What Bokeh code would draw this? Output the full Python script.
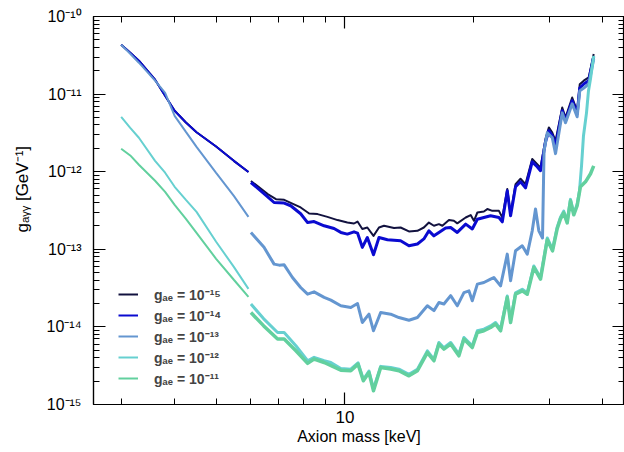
from bokeh.plotting import figure
from bokeh.models import LogAxis, FixedTicker, CustomJSTickFormatter, Legend, LegendItem, Range1d
from bokeh.embed import file_html
from bokeh.resources import INLINE

FONT = "Liberation Sans"

# ---------------- data (axion mass in keV, g_agg in GeV^-1) ----------------
# low-mass part, below the ~6 keV gap (shared mass grid)
mass_low = [3.0, 3.15, 3.3, 3.6, 3.8, 4.0, 4.25, 4.5, 5.0, 5.5, 5.95]
g15_low = [4.32e-11, 3.40e-11, 2.69e-11, 1.53e-11, 9.5e-12, 6.09e-12, 4.30e-12, 3.22e-12, 2.11e-12, 1.38e-12, 9.9e-13]
g14_low = [4.32e-11, 3.40e-11, 2.69e-11, 1.53e-11, 9.5e-12, 6.09e-12, 4.30e-12, 3.22e-12, 2.11e-12, 1.38e-12, 9.9e-13]
g13_low = [4.32e-11, 3.31e-11, 2.54e-11, 1.49e-11, 1.04e-11, 5.25e-12, 3.26e-12, 2.09e-12, 9.68e-13, 4.89e-13, 2.62e-13]
g12_low = [5.08e-12, 3.67e-12, 2.74e-12, 1.38e-12, 9.7e-13, 6.39e-13, 4.34e-13, 3.04e-13, 1.25e-13, 5.94e-14, 3.09e-14]
g11_low = [1.98e-12, 1.62e-12, 1.23e-12, 7.64e-13, 5.50e-13, 3.74e-13, 2.47e-13, 1.63e-13, 7.54e-14, 4.05e-14, 2.44e-14]

# high-mass part, above the gap
mass15_hi = [6.03, 6.6, 6.9, 7.21, 7.47, 7.88, 8.25, 8.63, 9.10, 9.61, 10.13, 10.50, 10.70, 10.98, 11.28,
             11.66, 12.01, 12.34, 13.02, 13.49, 14.11, 14.77, 15.29, 15.71, 16.14, 16.58, 16.89, 17.50, 17.97,
             18.30, 19.15, 19.67, 20.02, 20.39, 21.12, 21.51, 22.10, 22.90, 23.32, 23.95, 24.38, 25.04, 25.72,
             26.42, 27.39, 28.13, 28.64, 29.42, 29.95, 30.51, 31.05, 32.19, 32.76, 33.96, 34.88, 35.37, 36.14,
             37.12, 38.13]
g15_hi = [7.6e-13, 5.15e-13, 4.43e-13, 4.34e-13, 3.97e-13, 3.46e-13, 2.89e-13, 2.84e-13, 2.62e-13, 2.38e-13,
          2.21e-13, 2.15e-13, 2.28e-13, 1.83e-13, 1.91e-13, 1.49e-13, 1.91e-13, 2.01e-13, 1.88e-13, 1.91e-13,
          1.70e-13, 1.73e-13, 1.91e-13, 2.21e-13, 2.01e-13, 2.11e-13, 2.01e-13, 2.38e-13, 2.33e-13, 2.16e-13,
          2.57e-13, 2.76e-13, 2.33e-13, 2.98e-13, 3.07e-13, 3.30e-13, 3.13e-13, 3.13e-13, 2.57e-13, 5.97e-13,
          2.84e-13, 6.92e-13, 8.10e-13, 6.92e-13, 1.46e-12, 1.25e-12, 1.13e-12, 2.65e-12, 3.72e-12, 3.20e-12,
          2.49e-12, 6.72e-12, 4.99e-12, 9.04e-12, 6.09e-12, 1.34e-11, 1.49e-11, 1.64e-11, 3.28e-11]

mass14_hi = [6.03, 6.6, 6.83, 7.21, 7.47, 7.88, 8.18, 8.47, 8.94, 9.43, 9.78, 10.13, 10.50, 10.70, 10.98,
             11.28, 11.66, 12.01, 12.57, 13.49, 14.11, 14.77, 15.29, 15.71, 16.14, 16.58, 17.19, 17.66, 18.30,
             19.15, 19.84, 20.39, 21.12, 21.89, 22.90, 23.32, 23.95, 24.38, 25.04, 25.72, 26.42, 27.39, 28.13,
             28.64, 29.42, 29.95, 30.51, 31.05, 32.19, 32.76, 33.96, 34.88, 35.37, 36.14, 37.12, 38.13]
g14_hi = [7.26e-13, 4.75e-13, 4.01e-13, 3.94e-13, 3.64e-13, 2.87e-13, 2.21e-13, 2.28e-13, 2.01e-13, 1.85e-13,
          1.65e-13, 1.57e-13, 1.68e-13, 1.62e-13, 1.06e-13, 1.42e-13, 8.49e-14, 1.42e-13, 1.33e-13, 1.29e-13,
          1.11e-13, 1.17e-13, 1.36e-13, 1.73e-13, 1.49e-13, 1.65e-13, 1.88e-13, 1.91e-13, 1.65e-13, 2.11e-13,
          1.83e-13, 2.44e-13, 2.57e-13, 2.70e-13, 2.57e-13, 2.26e-13, 5.67e-13, 2.70e-13, 6.39e-13, 7.41e-13,
          6.20e-13, 1.34e-12, 1.16e-12, 1.03e-12, 2.43e-12, 3.37e-12, 2.91e-12, 2.16e-12, 6.09e-12, 4.52e-12,
          8.20e-12, 5.57e-12, 1.20e-11, 1.35e-11, 1.49e-11, 3.03e-11]

mass13_hi = [6.03, 6.47, 6.83, 7.02, 7.21, 7.54, 7.88, 8.18, 8.47, 8.94, 9.27, 9.78, 10.32, 10.70, 10.98,
             11.38, 11.66, 12.12, 12.79, 13.37, 14.11, 14.77, 15.58, 16.14, 16.58, 17.03, 17.66, 18.30, 18.97,
             19.49, 19.84, 20.39, 21.12, 21.89, 22.28, 23.10, 23.95, 24.38, 25.04, 25.96, 26.67, 27.39, 27.88,
             28.38, 28.95, 29.19, 29.70, 30.51, 31.05, 32.19, 32.76, 33.96, 34.88, 35.37, 36.14, 37.12, 38.13]
g13_hi = [1.65e-13, 1.06e-13, 6.44e-14, 6.25e-14, 6.31e-14, 4.33e-14, 3.22e-14, 2.64e-14, 2.83e-14, 2.40e-14,
          2.21e-14, 1.87e-14, 1.78e-14, 2.00e-14, 1.14e-14, 1.46e-14, 8.91e-15, 1.53e-14, 1.46e-14, 1.32e-14,
          1.22e-14, 1.32e-14, 1.87e-14, 1.62e-14, 2.06e-14, 1.97e-14, 2.53e-14, 1.87e-14, 2.77e-14, 2.91e-14,
          2.17e-14, 3.56e-14, 3.73e-14, 4.13e-14, 4.33e-14, 3.38e-14, 8.67e-14, 3.93e-14, 9.56e-14, 1.11e-13,
          8.67e-14, 1.73e-13, 3.30e-13, 1.73e-13, 1.40e-13, 1.86e-12, 3.17e-12, 2.74e-12, 1.71e-12, 5.73e-12,
          4.27e-12, 7.50e-12, 5.10e-12, 1.10e-11, 1.20e-11, 1.35e-11, 2.84e-11]

mass12_hi = [6.03, 6.46, 6.96, 7.21, 7.68, 8.18, 8.47, 8.94, 9.27, 9.78, 10.32, 10.73, 11.04, 11.38, 11.66,
             12.12, 12.79, 13.37, 14.11, 14.77, 15.58, 16.14, 16.58, 17.03, 17.66, 18.46, 18.97, 19.84, 20.39,
             21.12, 21.89, 22.48, 23.10, 23.95, 24.38, 25.04, 25.96, 26.67, 27.63, 28.64, 29.70, 30.55, 31.33,
             31.89, 32.45, 33.06, 33.65, 34.25, 34.88, 35.32, 35.71, 36.09, 36.68, 37.07, 37.48, 38.13]
g12_hi = [1.97e-14, 1.27e-14, 8.47e-15, 8.47e-15, 5.71e-15, 3.66e-15, 4.05e-15, 3.66e-15, 3.48e-15, 2.9e-15,
          2.85e-15, 3.45e-15, 2.1e-15, 2.7e-15, 1.6e-15, 3.1e-15, 3.0e-15, 2.85e-15, 2.45e-15, 2.85e-15,
          4.9e-15, 3.8e-15, 6.3e-15, 5.4e-15, 6.3e-15, 4.45e-15, 7.3e-15, 5.7e-15, 8.9e-15, 9.35e-15,
          1.03e-14, 1.14e-14, 9.35e-15, 2.5e-14, 1.2e-14, 2.75e-14, 3.05e-14, 2.75e-14, 6.1e-14, 4.3e-14,
          1.4e-13, 1.0e-13, 1.93e-13, 2.6e-13, 3.1e-13, 2.3e-13, 4.4e-13, 2.9e-13, 3.8e-13, 5.67e-13,
          1.19e-12, 2.91e-12, 5.73e-12, 1.10e-11, 1.58e-11, 3.11e-11]

mass11_hi = [6.03, 6.46, 6.96, 7.21, 7.68, 8.18, 8.47, 8.94, 9.78, 10.32, 10.73, 11.04, 11.38, 11.66, 12.12,
             12.79, 13.37, 14.11, 14.77, 15.58, 16.14, 16.58, 17.03, 17.66, 18.46, 18.97, 19.84, 20.39, 21.12,
             21.89, 22.48, 23.10, 23.95, 24.38, 25.04, 25.96, 26.67, 27.63, 28.64, 29.70, 30.55, 31.33, 31.89,
             32.45, 33.06, 33.65, 34.25, 34.88, 35.50, 36.48, 37.48, 38.13]
g11_hi = [1.53e-14, 1.03e-14, 6.97e-15, 6.97e-15, 4.92e-15, 3.39e-15, 3.85e-15, 3.48e-15, 2.77e-15, 2.72e-15,
          3.31e-15, 2.02e-15, 2.58e-15, 1.50e-15, 3.00e-15, 2.86e-15, 2.72e-15, 2.34e-15, 2.72e-15, 4.67e-15,
          3.66e-15, 6.00e-15, 5.17e-15, 6.00e-15, 4.24e-15, 6.97e-15, 5.42e-15, 8.47e-15, 8.91e-15, 9.82e-15,
          1.09e-14, 8.91e-15, 2.40e-14, 1.14e-14, 2.64e-14, 2.91e-14, 2.64e-14, 5.83e-14, 4.13e-14, 1.33e-13,
          9.56e-14, 1.84e-13, 2.47e-13, 2.95e-13, 2.19e-13, 4.22e-13, 2.78e-13, 3.64e-13, 6.39e-13, 7.41e-13,
          9.41e-13, 1.19e-12]

legend_labels = ["gₐₑ = 10⁻¹⁵", "gₐₑ = 10⁻¹⁴", "gₐₑ = 10⁻¹³", "gₐₑ = 10⁻¹²", "gₐₑ = 10⁻¹¹"]
colors = ["#12123f", "#0a0ad0", "#6496d0", "#66d0d0", "#62d09e"]

x_ticks = [10]
x_tick_labels = ["10"]
x_minor = [3, 4, 5, 6, 7, 8, 9, 20, 30, 40]
y_ticks = [1e-15, 1e-14, 1e-13, 1e-12, 1e-11, 1e-10]
y_tick_labels = ["10⁻¹⁵", "10⁻¹⁴", "10⁻¹³", "10⁻¹²", "10⁻¹¹", "10⁻¹⁰"]

# ---------------- figure ----------------
p = figure(width=624, height=448, x_axis_type="log", y_axis_type="log",
           x_range=Range1d(2.585, 45.0), y_range=Range1d(1e-15, 1e-10),
           output_backend="svg", toolbar_location=None,
           min_border_left=93, min_border_right=0, min_border_top=16, min_border_bottom=44,
           background_fill_color="white", border_fill_color="white")
p.grid.visible = False
p.outline_line_color = "black"
p.outline_line_width = 1.2

pick = """
let best = 0, bd = Infinity;
for (let i = 0; i < tk.length; i++) {
  const d = Math.abs(Math.log10(tick) - Math.log10(tk[i]));
  if (d < bd) { bd = d; best = i; }
}
return lb[best];
"""
y_minor = [k * t for t in y_ticks[:-1] for k in range(2, 10)]
xt = FixedTicker(ticks=x_ticks, minor_ticks=x_minor)
yt = FixedTicker(ticks=y_ticks, minor_ticks=y_minor)
xf = CustomJSTickFormatter(args=dict(tk=x_ticks, lb=x_tick_labels), code=pick)
yf = CustomJSTickFormatter(args=dict(tk=y_ticks, lb=y_tick_labels), code=pick)
blank = CustomJSTickFormatter(code="return '';")


def style(ax):
    ax.major_tick_in = 12
    ax.major_tick_out = 0
    ax.minor_tick_in = 6
    ax.minor_tick_out = 0
    ax.axis_line_color = "black"
    ax.major_tick_line_color = "black"
    ax.minor_tick_line_color = "black"
    ax.axis_line_width = 1.2
    ax.major_tick_line_width = 1.2
    ax.minor_tick_line_width = 1
    ax.major_label_text_font = FONT
    ax.major_label_text_color = "black"
    ax.axis_label_text_font = FONT
    ax.axis_label_text_font_style = "normal"
    ax.axis_label_text_color = "black"


xa = p.xaxis[0]
xa.ticker = xt
xa.formatter = xf
style(xa)
xa.major_label_text_font_size = "17px"
xa.major_label_standoff = 6
xa.axis_label = "Axion mass [keV]"
xa.axis_label_text_font_size = "16px"
xa.axis_label_standoff = 2

ya = p.yaxis[0]
ya.ticker = yt
ya.formatter = yf
style(ya)
ya.major_label_text_font_size = "16px"
ya.major_label_standoff = 12
# leading en-spaces shift the rotated title upward, as in the original
ya.axis_label = "\u2002\u2002\u2002\u2002\u2002gₐᵧᵧ [GeV⁻¹]"
ya.axis_label_text_font_size = "17px"
ya.axis_label_standoff = 12

top = LogAxis(ticker=FixedTicker(ticks=x_ticks, minor_ticks=x_minor), formatter=blank)
style(top)
top.major_label_text_font_size = "0px"
top.major_label_standoff = 0
p.add_layout(top, "above")

right = LogAxis(ticker=FixedTicker(ticks=y_ticks, minor_ticks=y_minor), formatter=blank)
style(right)
right.major_label_text_font_size = "0px"
right.major_label_standoff = 0
p.add_layout(right, "right")

series = [
    (mass_low, g15_low, mass15_hi, g15_hi, 2.0),
    (mass_low, g14_low, mass14_hi, g14_hi, 3.0),
    (mass_low, g13_low, mass13_hi, g13_hi, 3.0),
    (mass_low, g12_low, mass12_hi, g12_hi, 3.0),
    (mass_low, g11_low, mass11_hi, g11_hi, 3.5),
]
items = []
for (ml, gl, mh, gh, wh), lbl, col in zip(series, legend_labels, colors):
    r_lo = p.line(ml, gl, line_color=col, line_width=2)
    p.line(mh, gh, line_color=col, line_width=wh, line_join="round")
    items.append(LegendItem(label=lbl, renderers=[r_lo]))

legend = Legend(items=items, location=(25, 16), orientation="vertical",
                background_fill_alpha=0, border_line_alpha=0, padding=0, margin=0,
                spacing=1, glyph_width=20, glyph_height=20, label_height=20, label_standoff=16,
                label_text_font=FONT, label_text_font_style="bold", label_text_font_size="14px")
p.add_layout(legend)

open("out.html", "w").write(file_html(p, INLINE))
